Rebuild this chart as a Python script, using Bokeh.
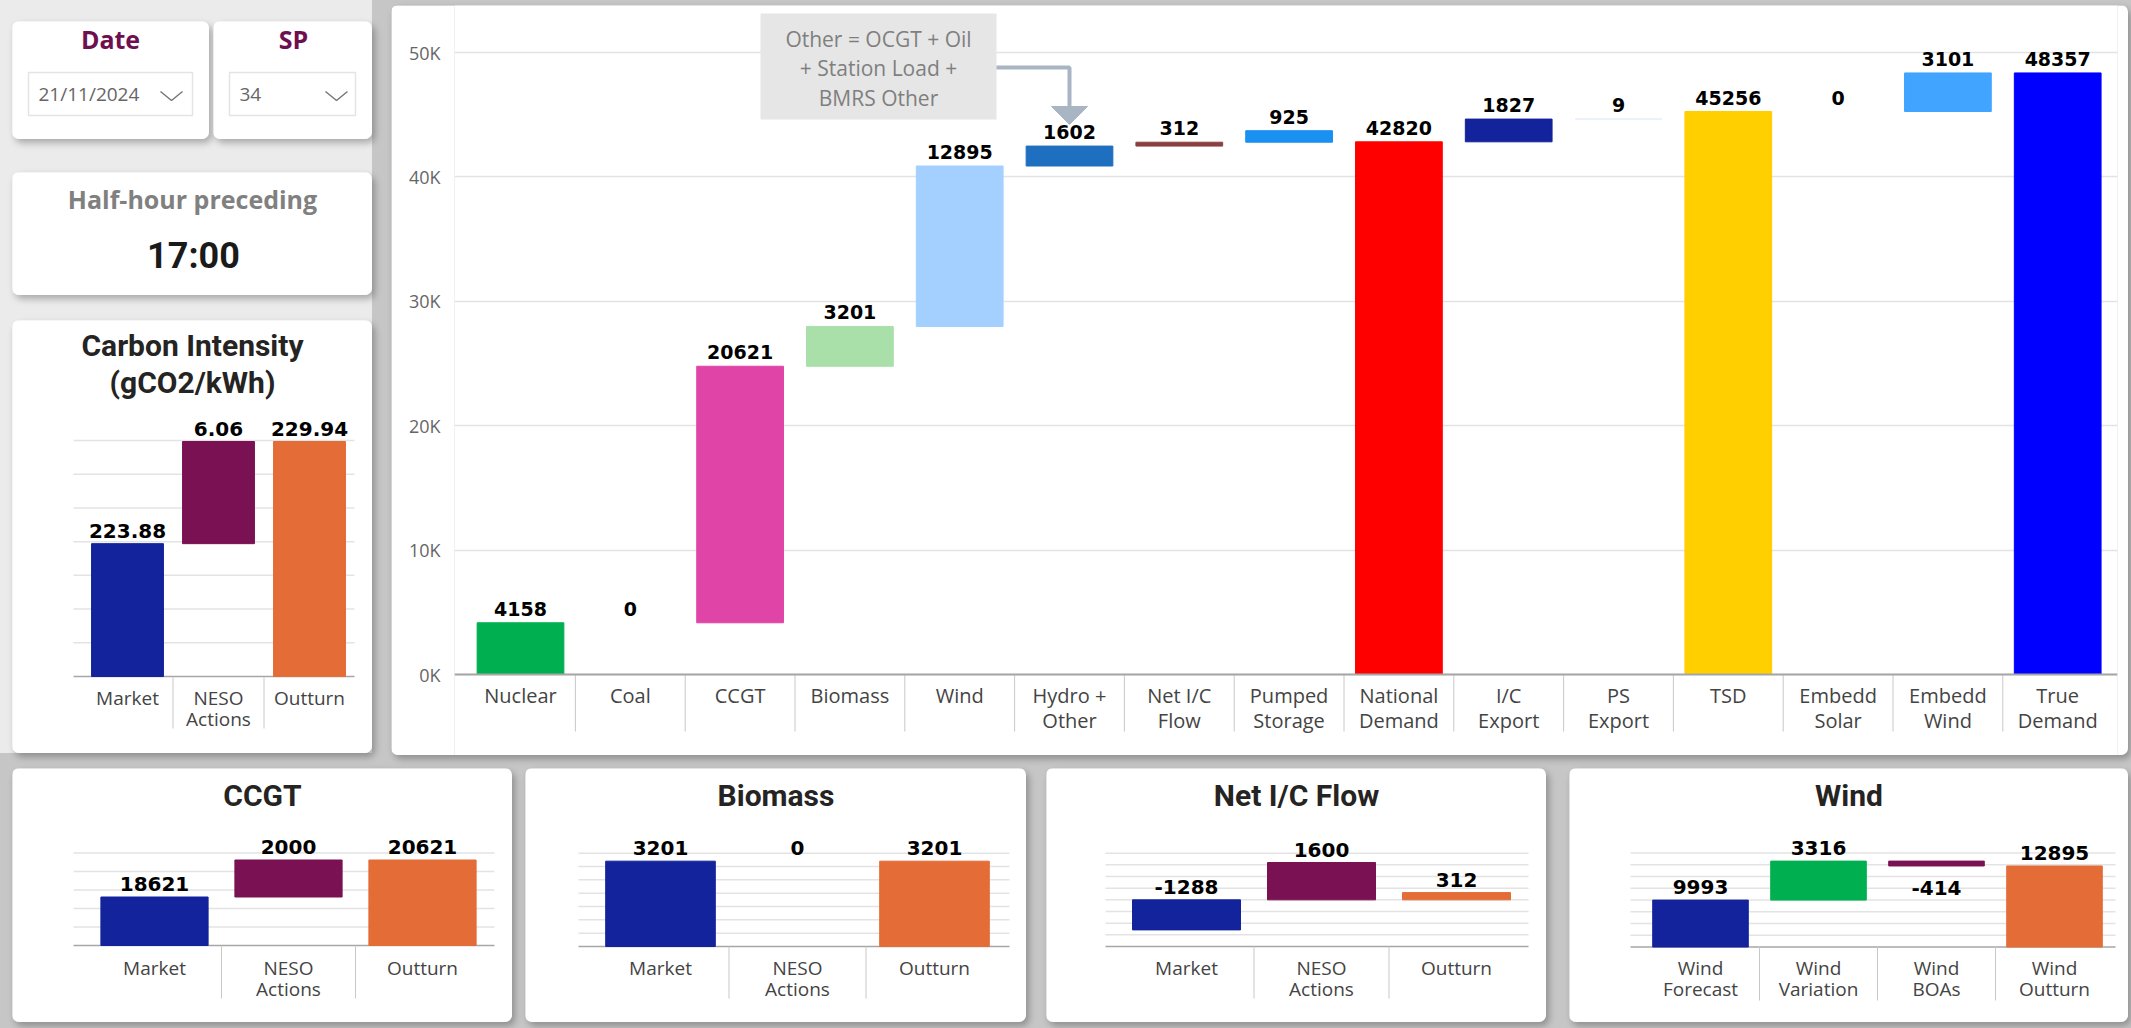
from bokeh.plotting import figure
from bokeh.layouts import row, column
from bokeh.models import Range1d, FixedTicker, Span, GlobalInlineStyleSheet
from bokeh.core.properties import value
from bokeh.embed import file_html
from bokeh.resources import INLINE

# ---------------- data ----------------
date_label = "Date"
date_text = "21/11/2024"
sp_label = "SP"
sp_text = "34"
half_hour_title = "Half-hour preceding"
half_hour_time = "17:00"

main_categories = ["Nuclear", "Coal", "CCGT", "Biomass", "Wind", "Hydro +\nOther",
                   "Net I/C\nFlow", "Pumped\nStorage", "National\nDemand", "I/C\nExport",
                   "PS\nExport", "TSD", "Embedd\nSolar", "Embedd\nWind", "True\nDemand"]
main_values = [4158, 0, 20621, 3201, 12895, 1602, 312, 925, 42820, 1827, 9, 45256, 0, 3101, 48357]
main_is_total = [False, False, False, False, False, False, False, False,
                 True, False, False, True, False, False, True]
main_y_ticks = [0, 10000, 20000, 30000, 40000, 50000]
main_y_tick_labels = ["0K", "10K", "20K", "30K", "40K", "50K"]
other_note = ["Other = OCGT + Oil", "+ Station Load +", "BMRS Other"]

carbon_title = ["Carbon Intensity", "(gCO2/kWh)"]
carbon_categories = ["Market", "NESO\nActions", "Outturn"]
carbon_values = [223.88, 6.06, 229.94]
carbon_is_total = [True, False, True]
carbon_grid = [216, 218, 220, 222, 224, 226, 228, 230]

ccgt_title = ["CCGT"]
ccgt_categories = ["Market", "NESO\nActions", "Outturn"]
ccgt_values = [18621, 2000, 20621]
ccgt_is_total = [True, False, True]
ccgt_grid = [16000, 17000, 18000, 19000, 20000, 21000]

biomass_title = ["Biomass"]
biomass_categories = ["Market", "NESO\nActions", "Outturn"]
biomass_values = [3201, 0, 3201]
biomass_is_total = [True, False, True]
biomass_grid = [0, 500, 1000, 1500, 2000, 2500, 3000, 3500]

netic_title = ["Net I/C Flow"]
netic_categories = ["Market", "NESO\nActions", "Outturn"]
netic_values = [-1288, 1600, 312]
netic_is_total = [True, True, True]
netic_grid = [-2000, -1500, -1000, -500, 0, 500, 1000, 1500, 2000]

wind_title = ["Wind"]
wind_categories = ["Wind\nForecast", "Wind\nVariation", "Wind\nBOAs", "Wind\nOutturn"]
wind_values = [9993, 3316, -414, 12895]
wind_is_total = [True, False, False, True]
wind_grid = [6000, 7000, 8000, 9000, 10000, 11000, 12000, 13000, 14000]

# ---------------- styles ----------------
MAIN_COLORS = ["#00b050", "#7f7f7f", "#e044a7", "#a9dfa9", "#a3d0fe", "#1f6fc0",
               "#8b4040", "#1a90f0", "#ff0000", "#13239c", "#e6edf7", "#ffcf00",
               "#cccccc", "#41a5ff", "#0000ff"]
MARKET, NESO, OUTTURN, GREEN = "#13239c", "#7a1153", "#e46c37", "#00b050"
GRID_C, AXIS_C, SEP_C = "#e3e3e3", "#a6a6a6", "#c8c8c8"
CAT_FONT, LAB_FONT, TITLE_FONT = value("Open Sans"), value("DejaVu Sans"), value("Roboto")
CARD_STYLE = {"border-radius": "7px", "box-shadow": "3px 4px 7px rgba(0,0,0,0.28)",
              "overflow": "hidden"}


def waterfall(vals, is_total, base):
    bottoms, tops, run = [], [], base
    for v, t in zip(vals, is_total):
        if t:
            b, tp = base, v
        else:
            b, tp = run, run + v
        run = tp
        bottoms.append(b)
        tops.append(tp)
    return bottoms, tops


def base_fig(w, h, xr, yr, margin, **kw):
    p = figure(width=w, height=h, x_range=Range1d(*xr), y_range=Range1d(*yr),
               output_backend="svg", toolbar_location=None, margin=margin,
               background_fill_color="white", border_fill_color="white",
               outline_line_color=None, styles=CARD_STYLE, **kw)
    return p


def draw_bars(p, xs, width, vals, bottoms, tops, colors):
    vis = [0 if v == 0 else 1 for v in vals]
    p.vbar(x=xs, width=width, bottom=bottoms, top=tops, fill_color=colors,
           line_color=colors, line_alpha=vis, fill_alpha=vis)


def draw_labels(p, xs, vals, is_total, bottoms, tops, size, off):
    ax, ay, at, bx, by, bt = [], [], [], [], [], []
    for x, v, t, b, tp in zip(xs, vals, is_total, bottoms, tops):
        txt = f"{v:g}"
        if v < 0 and not t:
            bx.append(x); by.append(min(b, tp)); bt.append(txt)
        else:
            ax.append(x); ay.append(max(b, tp)); at.append(txt)
    p.text(ax, ay, text=at, text_font=LAB_FONT, text_font_style="bold", text_font_size=size,
           text_align="center", text_baseline="alphabetic", y_offset=-off, text_color="black")
    if bx:
        p.text(bx, by, text=bt, text_font=LAB_FONT, text_font_style="bold", text_font_size=size,
               text_align="center", text_baseline="top", y_offset=15, text_color="black")


def small_card(card, margin, c0, step, va, pya, vb, pyb, base, grid_vals, gx, cats, vals,
               is_total, colors, bar_w, titles, title_ys, cat_ys, sep_y):
    L, T, W, H = card
    X = lambda px: (px - c0) / step
    k = (vb - va) / (pya - pyb)
    Y = lambda py: va + (pya - py) * k
    p = base_fig(W, H, (X(L), X(L + W)), (Y(T + H), Y(T)), margin,
                 x_axis_type=None, y_axis_type=None, min_border=0)
    g = grid_vals[1:]
    p.segment(x0=[X(gx[0])] * len(g), x1=[X(gx[1])] * len(g), y0=g, y1=g,
              line_color=GRID_C, line_width=1.5)
    p.segment(x0=[X(gx[0])], x1=[X(gx[1])], y0=[grid_vals[0]], y1=[grid_vals[0]],
              line_color=AXIS_C, line_width=1.5)
    n = len(cats)
    xs = list(range(n))
    bottoms, tops = waterfall(vals, is_total, base)
    draw_bars(p, xs, bar_w, vals, bottoms, tops, colors)
    draw_labels(p, xs, vals, is_total, bottoms, tops, "20px", 13)
    sx = [i + 0.5 for i in range(n - 1)]
    p.segment(x0=sx, x1=sx, y0=[Y(sep_y[0])] * len(sx), y1=[Y(sep_y[1])] * len(sx),
              line_color=SEP_C, line_width=1)
    l1 = [c.split("\n")[0] for c in cats]
    l2 = [c.split("\n")[1] if "\n" in c else "" for c in cats]
    for lines, cy in ((l1, cat_ys[0]), (l2, cat_ys[1])):
        p.text(xs, [Y(cy)] * n, text=lines, text_font=CAT_FONT, text_font_size="19px",
               text_align="center", text_baseline="middle", text_color="#444444")
    for t, ty in zip(titles, title_ys):
        p.text([X(L + W / 2)], [Y(ty)], text=[t], text_font=TITLE_FONT, text_font_style="bold",
               text_font_size="30px", text_align="center", text_baseline="middle",
               text_color="#252423")
    return p


def text_card(w, h, margin):
    return base_fig(w, h, (0, w), (h, 0), margin, x_axis_type=None, y_axis_type=None,
                    min_border=0)


def dropdown(p, x0, x1, y0, y1, txt, chev_x):
    p.quad(left=[x0], right=[x1], top=[y0], bottom=[y1], fill_color="white",
           line_color="#e4e4e4", line_width=1.5)
    p.text([x0 + 10], [(y0 + y1) / 2], text=[txt], text_font=CAT_FONT, text_font_size="19px",
           text_baseline="middle", text_color="#666666")
    p.line([chev_x, chev_x + 11, chev_x + 22], [y0 + 19, y0 + 28, y0 + 19],
           line_color="#777777", line_width=1.5)


# ---------------- Date / SP / Half-hour ----------------
date_p = text_card(197, 118, (21, 0, 0, 12))
date_p.text([98], [17], text=[date_label], text_font=CAT_FONT, text_font_style="bold",
            text_font_size="25px", text_align="center", text_baseline="middle",
            text_color="#6e0f4f")
dropdown(date_p, 16, 180, 51, 94, date_text, 148)

sp_p = text_card(159, 118, (21, 0, 0, 4))
sp_p.text([80], [17], text=[sp_label], text_font=CAT_FONT, text_font_style="bold",
          text_font_size="25px", text_align="center", text_baseline="middle",
          text_color="#6e0f4f")
dropdown(sp_p, 16, 142, 51, 94, sp_text, 112)

half_p = text_card(360, 123, (33, 0, 0, 12))
half_p.text([180], [26], text=[half_hour_title], text_font=CAT_FONT, text_font_style="bold",
            text_font_size="25px", text_align="center", text_baseline="middle",
            text_color="#808080")
half_p.text([181], [83], text=[half_hour_time], text_font=TITLE_FONT, text_font_style="bold",
            text_font_size="36px", text_align="center", text_baseline="middle",
            text_color="#1a1a1a")

# ---------------- Carbon intensity ----------------
carbon_p = small_card((12, 320, 360, 433), (25, 0, 0, 12), 127, 91, 216, 676, 230, 440, 216,
                      carbon_grid, (73, 354), carbon_categories, carbon_values, carbon_is_total,
                      [MARKET, NESO, OUTTURN], 0.79, carbon_title, [345, 382], [697, 718],
                      [677, 728])

# ---------------- Main waterfall ----------------
MX = lambda px: (px - 520) / 109.8
MY = lambda py: (674 - py) * 1000 / 12.44
main_p = figure(width=1737, height=750, x_range=Range1d(MX(454), MX(2117)),
                y_range=Range1d(MY(755), MY(5)), output_backend="svg", toolbar_location=None,
                x_axis_type=None, margin=(5, 0, 0, 19), min_border_left=63,
                min_border_right=11, min_border_top=0, min_border_bottom=0,
                background_fill_color="white", border_fill_color="white",
                outline_line_color=None, styles=CARD_STYLE)
ax = main_p.yaxis[0]
ax.ticker = FixedTicker(ticks=main_y_ticks)
ax.major_label_overrides = {t: l for t, l in zip(main_y_ticks, main_y_tick_labels)}
ax.axis_line_color = None
ax.major_tick_line_color = None
ax.minor_tick_line_color = None
ax.major_tick_out = 0
ax.major_label_standoff = 14
ax.major_label_text_font = "Open Sans"
ax.major_label_text_font_size = "18px"
ax.major_label_text_color = "#666666"
main_p.ygrid.ticker = FixedTicker(ticks=main_y_ticks)
main_p.ygrid.grid_line_color = GRID_C
main_p.ygrid.grid_line_width = 1.5
main_p.add_layout(Span(location=0, dimension="width", line_color=AXIS_C, line_width=2))

n = len(main_categories)
mx = list(range(n))
mb, mt = waterfall(main_values, main_is_total, 0)
draw_bars(main_p, mx, 0.79, main_values, mb, mt, MAIN_COLORS)
draw_labels(main_p, mx, main_values, main_is_total, mb, mt, "19px", 14)
sx = [i + 0.5 for i in range(n - 1)]
main_p.segment(x0=sx, x1=sx, y0=[MY(674)] * len(sx), y1=[MY(731)] * len(sx),
               line_color=SEP_C, line_width=1)
ml1 = [c.split("\n")[0] for c in main_categories]
ml2 = [c.split("\n")[1] if "\n" in c else "" for c in main_categories]
for lines, cy in ((ml1, 695), (ml2, 720)):
    main_p.text(mx, [MY(cy)] * n, text=lines, text_font=CAT_FONT, text_font_size="20px",
                text_align="center", text_baseline="middle", text_color="#444444")

# note box + arrow
main_p.quad(left=[MX(760)], right=[MX(996)], top=[MY(13)], bottom=[MY(119)],
            fill_color="#e6e6e6", line_color=None)
main_p.text([MX(878)] * 3, [MY(38), MY(67), MY(97)], text=other_note, text_font=CAT_FONT,
            text_font_size="21px", text_align="center", text_baseline="middle",
            text_color="#7f7f7f")
main_p.line([MX(996), MX(1069), MX(1069)], [MY(67), MY(67), MY(108)],
            line_color="#a9b5c3", line_width=4)
main_p.patch([MX(1051), MX(1087), MX(1069)], [MY(106), MY(106), MY(124)],
             fill_color="#a9b5c3", line_color="#a9b5c3")

# ---------------- bottom cards ----------------
ccgt_p = small_card((12, 768, 500, 254), (13, 0, 0, 12), 154, 134, 16000, 945, 21000, 852.5,
                    16000, ccgt_grid, (73, 494), ccgt_categories, ccgt_values, ccgt_is_total,
                    [MARKET, NESO, OUTTURN], 0.8, ccgt_title, [795], [967, 988], [945, 998])
bio_p = small_card((525, 768, 501, 254), (13, 0, 0, 13), 660, 137, 0, 946, 3500, 852.7,
                   0, biomass_grid, (578, 1009), biomass_categories, biomass_values,
                   biomass_is_total, [MARKET, NESO, OUTTURN], 0.8, biomass_title, [795],
                   [967, 988], [946, 998])
net_p = small_card((1046, 768, 500, 254), (13, 0, 0, 20), 1186, 135, -2000, 946, 2000, 852.7,
                   0, netic_grid, (1105, 1528), netic_categories, netic_values, netic_is_total,
                   [MARKET, NESO, OUTTURN], 0.8, netic_title, [795], [967, 988], [946, 998])
wind_p = small_card((1569, 768, 559, 254), (13, 0, 0, 23), 1700, 118, 6000, 946.5, 14000, 852.5,
                    6000, wind_grid, (1630, 2115), wind_categories, wind_values, wind_is_total,
                    [MARKET, GREEN, NESO, OUTTURN], 0.81, wind_title, [795], [967, 988],
                    [946, 1000])

left_col = column(row(date_p, sp_p), half_p, carbon_p,
                  styles={"background-color": "#ebebeb"})
top_row = row(left_col, main_p)
bottom_row = row(ccgt_p, bio_p, net_p, wind_p)
root = column(top_row, bottom_row,
              stylesheets=[GlobalInlineStyleSheet(
                  css="html, body { margin: 0; padding: 0; background-color: #c6c6c6; }")])

open("out.html", "w").write(file_html(root, INLINE))
